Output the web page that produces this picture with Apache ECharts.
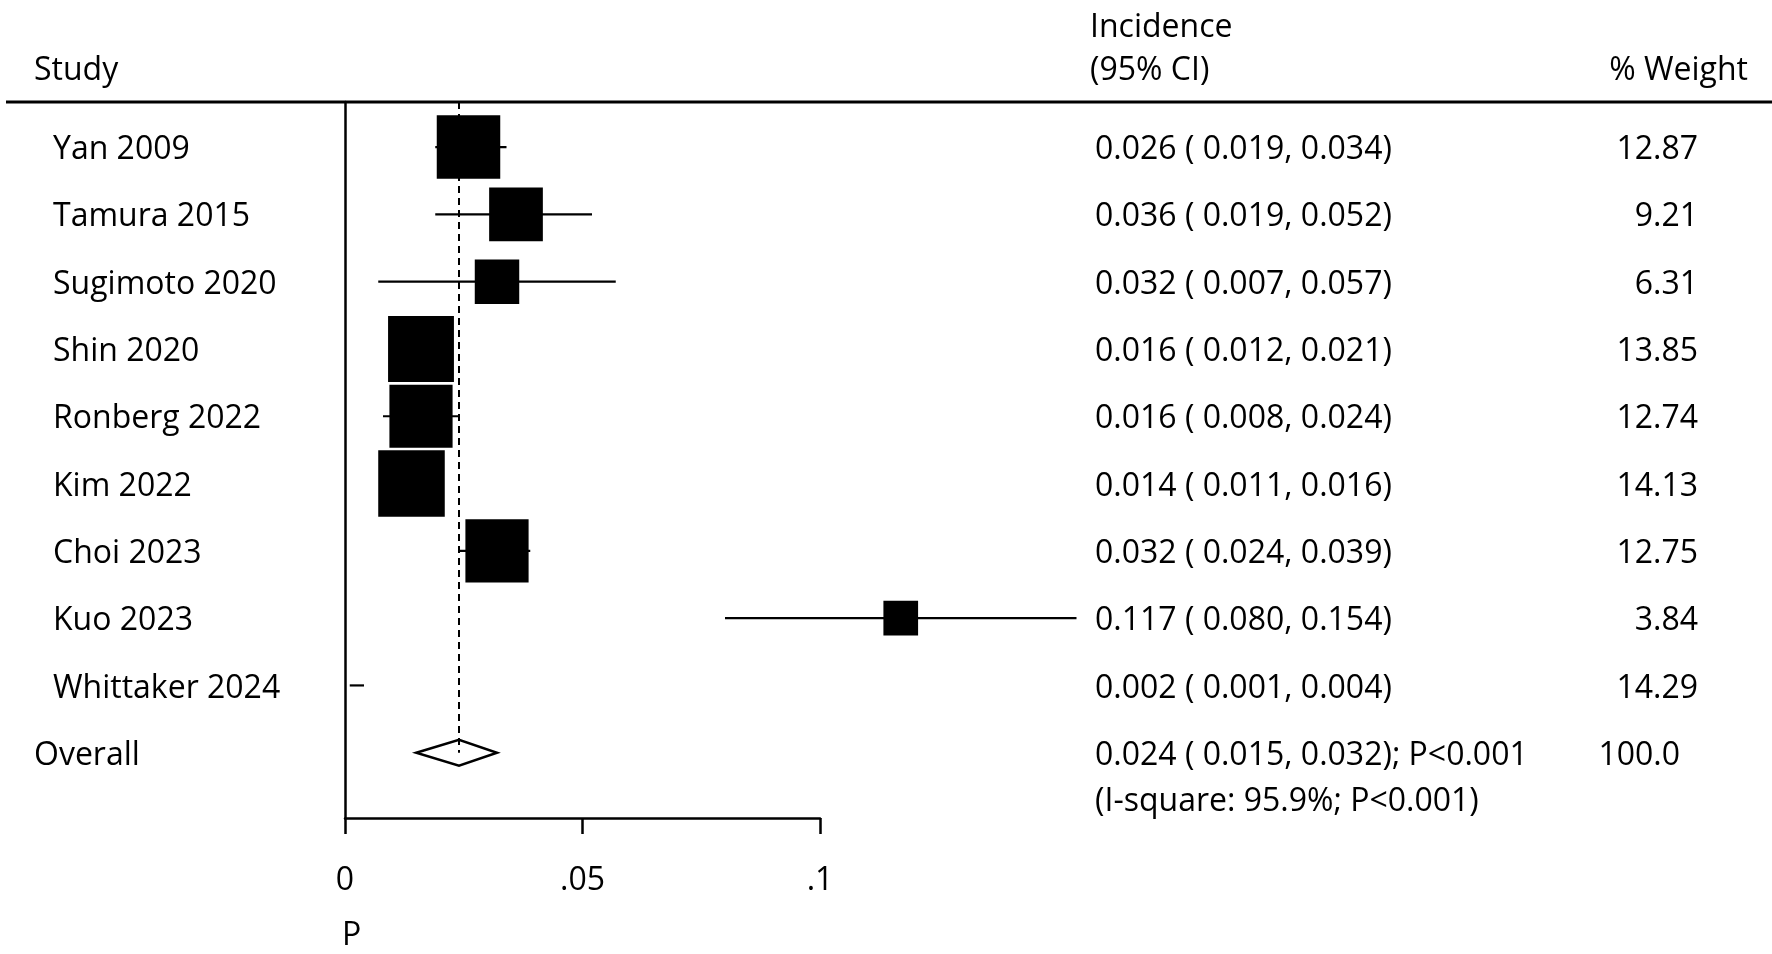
<!DOCTYPE html>
<html>
<head>
<meta charset="utf-8">
<script src="https://cdn.jsdelivr.net/npm/echarts@6/dist/echarts.min.js"></script>
<style>
html,body{margin:0;padding:0;background:#fff;}
#chart{width:1772px;height:954px;}
</style>
</head>
<body>
<div id="chart"></div>
<script>
// ---- data ----
const studies   = ['Yan 2009','Tamura 2015','Sugimoto 2020','Shin 2020','Ronberg 2022','Kim 2022','Choi 2023','Kuo 2023','Whittaker 2024'];
const estimates = [0.026, 0.036, 0.032, 0.016, 0.016, 0.014, 0.032, 0.117, 0.002];
const lowerCI   = [0.019, 0.019, 0.007, 0.012, 0.008, 0.011, 0.024, 0.080, 0.001];
const upperCI   = [0.034, 0.052, 0.057, 0.021, 0.024, 0.016, 0.039, 0.154, 0.004];
const weights   = [12.87, 9.21, 6.31, 13.85, 12.74, 14.13, 12.75, 3.84, 14.29];
const boxShown  = [true, true, true, true, true, true, true, true, false];
const overallLabel = 'Overall';
const overallEst = 0.024, overallLo = 0.015, overallHi = 0.032;
const overallP = 'P<0.001';
const overallWeight = '100.0';
const heterogeneity = '(I-square: 95.9%; P<0.001)';
const tickLabels = {0: '0', 0.05: '.05', 0.1: '.1'};
const axisTitle = 'P';
const headerStudy = 'Study';
const headerCI1 = 'Incidence';
const headerCI2 = '(95% CI)';
const headerWeight = '% Weight';

// ---- layout / style ----
const FONT = '"Open Sans", "Noto Sans", sans-serif';
const FS = 32;
const font = FS + 'px ' + FONT;
const DY = 3;
const X_LABEL = 53, X_OVERALL = 34, X_CI = 1095, X_W = 1698, X_W_OVERALL = 1680;
const BOX_K = 17.7;

const fmt = v => v.toFixed(3);
const ciText = (e, l, h) => fmt(e) + ' ( ' + fmt(l) + ', ' + fmt(h) + ')';

const rowData = studies.map((s, i) => [i + 1, estimates[i], lowerCI[i], upperCI[i], weights[i]]);
const overallRow = studies.length + 1;

function txt(text, x, y, align) {
  return {type: 'text', style: {text: text, x: x, y: y + DY, font: font, fill: '#000', align: align || 'left', verticalAlign: 'middle'}};
}

const chart = echarts.init(document.getElementById('chart'), null, {renderer: 'canvas'});
chart.setOption({
  backgroundColor: '#fff',
  animation: false,
  grid: {left: 345, top: 102, width: 475, height: 716, containLabel: false},
  xAxis: {
    type: 'value', min: 0, max: 0.1, interval: 0.05,
    axisLine: {show: true, lineStyle: {color: '#000', width: 2.5}},
    axisTick: {show: true, length: 16, lineStyle: {color: '#000', width: 2.5}},
    axisLabel: {show: true, margin: 47, color: '#000', fontSize: FS, fontFamily: FONT,
      formatter: v => tickLabels[Math.round(v * 100) / 100] ?? String(v)},
    splitLine: {show: false}
  },
  yAxis: {
    type: 'value', inverse: true, min: 0.33, max: 10.97,
    axisLine: {show: true, lineStyle: {color: '#000', width: 2.5}},
    axisTick: {show: false}, axisLabel: {show: false}, splitLine: {show: false}
  },
  graphic: [
    {type: 'line', shape: {x1: 6, y1: 102, x2: 1772, y2: 102}, style: {stroke: '#000', lineWidth: 3}},
    txt(headerStudy, 34, 68),
    txt(headerCI1, 1090, 25),
    txt(headerCI2, 1090, 68),
    txt(headerWeight, 1748, 68, 'right'),
    txt(axisTitle, 342, 933)
  ],
  series: [
    { // reference dashed line at overall estimate
      type: 'custom', clip: false, silent: true,
      data: [[overallEst]],
      renderItem: function (params, api) {
        const p1 = api.coord([api.value(0), 0.33]);
        const p2 = api.coord([api.value(0), overallRow]);
        return {type: 'line', shape: {x1: p1[0], y1: p1[1], x2: p2[0], y2: p2[1]},
          style: {stroke: '#000', lineWidth: 2, lineDash: [7, 5]}};
      }
    },
    { // studies
      type: 'custom', clip: false, silent: true,
      data: rowData,
      renderItem: function (params, api) {
        const i = params.dataIndex;
        const r = api.value(0), e = api.value(1), l = api.value(2), h = api.value(3), w = api.value(4);
        const pe = api.coord([e, r]), pl = api.coord([l, r]), ph = api.coord([h, r]);
        const children = [
          {type: 'line', shape: {x1: pl[0], y1: pl[1], x2: ph[0], y2: ph[1]}, style: {stroke: '#000', lineWidth: 2.2}}
        ];
        if (boxShown[i]) {
          const s = BOX_K * Math.sqrt(w);
          children.push({type: 'rect', shape: {x: pe[0] - s / 2, y: pe[1] - s / 2, width: s, height: s},
            style: {fill: '#000', stroke: null}});
        }
        children.push(txt(studies[i], X_LABEL, pe[1]));
        children.push(txt(ciText(e, l, h), X_CI, pe[1]));
        children.push(txt(w.toFixed(2), X_W, pe[1], 'right'));
        return {type: 'group', children: children};
      }
    },
    { // overall
      type: 'custom', clip: false, silent: true,
      data: [[overallRow, overallEst, overallLo, overallHi]],
      renderItem: function (params, api) {
        const r = api.value(0), e = api.value(1), l = api.value(2), h = api.value(3);
        const pe = api.coord([e, r]), pl = api.coord([l, r]), ph = api.coord([h, r]);
        const hh = 13;
        return {type: 'group', children: [
          {type: 'polygon', shape: {points: [[pl[0], pl[1]], [pe[0], pe[1] - hh], [ph[0], ph[1]], [pe[0], pe[1] + hh]]},
            style: {fill: 'none', stroke: '#000', lineWidth: 2.5}},
          txt(overallLabel, X_OVERALL, pe[1]),
          txt(ciText(e, l, h) + '; ' + overallP, X_CI, pe[1]),
          txt(overallWeight, X_W_OVERALL, pe[1], 'right'),
          txt(heterogeneity, X_CI, pe[1] + 46)
        ]};
      }
    }
  ]
});
</script>
</body>
</html>
